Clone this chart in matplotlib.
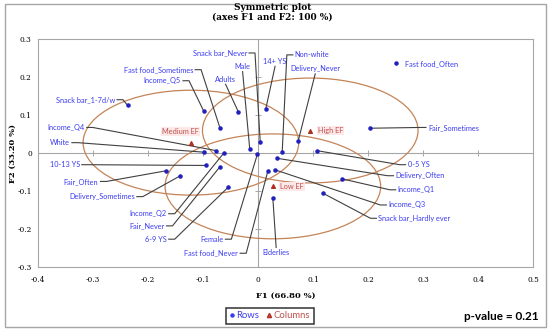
import matplotlib.pyplot as plt
from matplotlib.patches import Ellipse, Rectangle
from matplotlib.lines import Line2D

# row points (F1, F2)
row_names = ['Snack bar_1-7d/w', 'Fast food_Sometimes', 'Income_Q5', 'Adults', 'Male',
             'Snack bar_Never', '14+ YS', 'Non-white', 'Delivery_Never', 'Fast food_Often',
             'Fair_Sometimes', 'Income_Q4', 'White', '10-13 YS', 'Fair_Often',
             'Delivery_Sometimes', 'Income_Q2', 'Fair_Never', '6-9 YS', 'Female',
             'Fast food_Never', 'Elderlies', '0-5 YS', 'Delivery_Often', 'Income_Q1',
             'Income_Q3', 'Snack bar_Hardly ever']
row_f1 = [-0.237, -0.069, -0.099, -0.036, -0.015, 0.004, 0.014, 0.044, 0.073, 0.251,
          0.204, -0.076, -0.099, -0.095, -0.167, -0.141, -0.062, -0.069, -0.054, -0.001,
          0.018, 0.027, 0.107, 0.034, 0.152, 0.030, 0.118]
row_f2 = [0.126, 0.066, 0.112, 0.110, 0.011, 0.031, 0.116, 0.003, 0.032, 0.237,
          0.066, 0.007, 0.003, -0.032, -0.046, -0.059, 0.001, -0.035, -0.089, -0.002,
          -0.046, -0.118, 0.007, -0.013, -0.067, -0.043, -0.105]

# column points
col_names = ['Medium EF', 'High EF', 'Low EF']
col_f1 = [-0.122, 0.095, 0.027]
col_f2 = [0.028, 0.060, -0.087]

# where the row labels sit (data units) and how they are aligned
lab_x = [-0.260, -0.118, -0.140, -0.059, -0.028, -0.020, 0.031, 0.067, 0.104, 0.267,
         0.309, -0.315, -0.342, -0.324, -0.290, -0.224, -0.166, -0.170, -0.166, -0.063,
         -0.036, 0.033, 0.272, 0.250, 0.254, 0.237, 0.219]
lab_y = [0.141, 0.220, 0.191, 0.195, 0.228, 0.264, 0.242, 0.259, 0.222, 0.236,
         0.068, 0.068, 0.028, -0.030, -0.074, -0.114, -0.159, -0.191, -0.226, -0.226,
         -0.263, -0.261, -0.030, -0.059, -0.096, -0.136, -0.171]
lab_ha = ['right', 'right', 'right', 'center', 'center', 'right', 'center', 'left', 'center', 'none',
          'left', 'right', 'right', 'right', 'right', 'right', 'right', 'right', 'right', 'right',
          'right', 'center', 'left', 'left', 'left', 'left', 'left']
col_lab_x = [-0.141, 0.109, 0.040]
col_lab_y = [0.057, 0.060, -0.087]
col_lab_ha = ['center', 'left', 'left']

xticks = [-0.4, -0.3, -0.2, -0.1, 0, 0.1, 0.2, 0.3, 0.4, 0.5]
yticks = [-0.3, -0.2, -0.1, 0, 0.1, 0.2, 0.3]

blue = '#3b3bf0'
red = '#c0504d'
grey = '#a6a6a6'
lead = '#404040'
ell_col = '#c48458'
lab_size = 5.3

fig = plt.figure(figsize=(5.5, 3.31), dpi=100)
ax = fig.add_axes([38 / 550, 1 - 267.3 / 331, 495 / 550, 228 / 331])
ax.set_xlim(-0.4, 0.5)
ax.set_ylim(-0.3, 0.3)

# px -> data
px = 0.9 / 495
py = 0.6 / 228

for sp in ax.spines.values():
    sp.set_color(grey)
    sp.set_linewidth(0.8)
ax.set_xticks(xticks)
ax.set_yticks(yticks)
ax.set_xticklabels(['0' if t == 0 else f'{t:g}' for t in xticks], fontfamily='DejaVu Serif', fontsize=5.3)
ax.set_yticklabels(['0' if t == 0 else f'{t:g}' for t in yticks], fontfamily='DejaVu Serif', fontsize=5.3)
ax.tick_params(axis='x', length=0, pad=6)
ax.tick_params(axis='y', length=0, pad=4.5)

# axes through the origin with small ticks
ax.axhline(0, color=grey, lw=0.8, zorder=1)
ax.axvline(0, color=grey, lw=0.8, zorder=1)
ax.plot(xticks, [0] * len(xticks), ls='none', marker='|', ms=4, mew=0.7, color=grey, zorder=1)
ax.plot([0] * len(yticks), yticks, ls='none', marker='_', ms=4, mew=0.7, color=grey, zorder=1)

# confidence ellipses around the columns
for cx, cy in zip(col_f1, col_f2):
    ax.add_patch(Ellipse((cx, cy), 0.392, 0.276, fill=False, ec=ell_col, lw=0.9, zorder=2))

# leader lines and row labels
for name, x, y, lx, ly, ha in zip(row_names, row_f1, row_f2, lab_x, lab_y, lab_ha):
    if ha == 'none':
        ax.text(lx, ly, name, ha='left', va='center', fontsize=lab_size, color=blue, fontfamily='Lato', zorder=5)
        continue
    if ha == 'center':
        sy = ly - 5 * py if ly > y else ly + 5 * py
        path_x, path_y = [lx, x], [sy, y]
    else:
        sgn = 1 if ha == 'right' else -1
        sx = lx + sgn * 2 * px
        path_x = [sx, sx + sgn * 6 * px, x]
        path_y = [ly, ly, y]
    ax.plot(path_x, path_y, color=lead, lw=0.8, zorder=3)
    ax.text(lx, ly, name, ha=ha, va='center', fontsize=lab_size, color=blue, fontfamily='Lato', zorder=5)

ax.scatter(row_f1, row_f2, s=5, color='#2020c0', zorder=4)
ax.scatter(col_f1, col_f2, s=7, marker='^', color='#b03020', zorder=4)

for name, lx, ly, ha in zip(col_names, col_lab_x, col_lab_y, col_lab_ha):
    ax.text(lx, ly, name, ha=ha, va='center', fontsize=lab_size, color=red, fontfamily='Lato', zorder=5,
            bbox=dict(boxstyle='square,pad=0.15', fc='#fce8e8', ec='none'))

ax.set_xlabel('F1 (66.80 %)', fontfamily='DejaVu Serif', fontweight='bold', fontsize=6, labelpad=6)
ax.set_ylabel('F2 (33.20 %)', fontfamily='DejaVu Serif', fontweight='bold', fontsize=6)
ax.yaxis.set_label_coords(-(38 - 17) / 495, 0.5)

fig.text(0.495, 1 - 12 / 331, 'Symmetric plot\n(axes F1 and F2: 100 %)', ha='center', va='center',
         fontfamily='DejaVu Serif', fontweight='bold', fontsize=6.5, linespacing=1.1)

handles = [Line2D([], [], ls='none', marker='o', ms=2.2, color=blue, mfc=blue),
           Line2D([], [], ls='none', marker='^', ms=3, color='#b03020', mfc=red)]
leg = fig.legend(handles, ['Rows', 'Columns'], loc='center', bbox_to_anchor=(270 / 550, 1 - 316 / 331),
                 ncol=2, prop={'family': 'Lato', 'size': 6.8}, frameon=True, fancybox=False,
                 edgecolor='black', handlelength=0.4, handletextpad=0.3, columnspacing=0.8,
                 borderpad=0.4, labelcolor='markerfacecolor')
leg.get_frame().set_linewidth(1.1)

fig.text(539 / 550, 1 - 316 / 331, 'p-value = 0.21', ha='right', va='center', fontfamily='Lato',
         fontweight='bold', fontsize=8.5)

fig.add_artist(Rectangle((5 / 550, 1 - 327 / 331), 541 / 550, 323 / 331, transform=fig.transFigure,
                         fill=False, ec=grey, lw=1.0))

fig.savefig('out.png', dpi=100)
